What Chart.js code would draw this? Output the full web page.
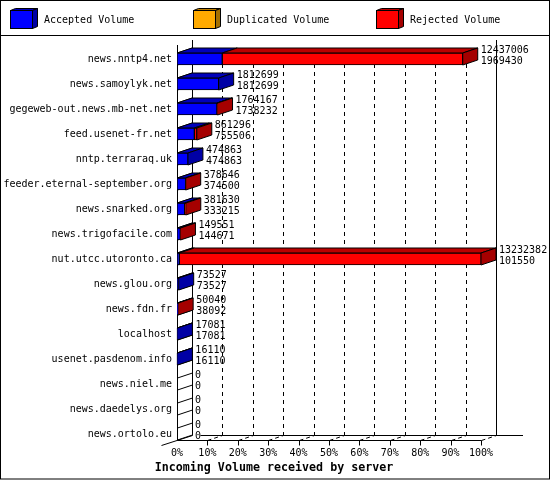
<!DOCTYPE html>
<html>
<head>
<meta charset="utf-8">
<title>Incoming Volume received by server</title>
<script src="https://cdn.jsdelivr.net/npm/chart.js@4"></script>
<style>
    html, body { margin: 0; padding: 0; background: #fff; }
    #wrap { width: 550px; height: 480px; }
</style>
</head>
<body>
<div id="wrap"><canvas id="chart"></canvas></div>
<script>
const servers = [
    'news.nntp4.net', 'news.samoylyk.net', 'gegeweb-out.news.mb-net.net', 'feed.usenet-fr.net',
    'nntp.terraraq.uk', 'feeder.eternal-september.org', 'news.snarked.org', 'news.trigofacile.com',
    'nut.utcc.utoronto.ca', 'news.glou.org', 'news.fdn.fr', 'localhost',
    'usenet.pasdenom.info', 'news.niel.me', 'news.daedelys.org', 'news.ortolo.eu'
];
const totalVolume = [12437006, 1812699, 1764167, 861296, 474863, 378646, 381630, 149551, 13232382, 73527, 50040, 17081, 16110, 0, 0, 0];
const acceptedVolume = [1969430, 1812699, 1738232, 755506, 474863, 374500, 333215, 144671, 101550, 73527, 38092, 17081, 16110, 0, 0, 0];
const duplicatedVolume = [0, 0, 0, 0, 0, 0, 0, 0, 0, 0, 0, 0, 0, 0, 0, 0];
const rejectedVolume = [10467576, 0, 25935, 105790, 0, 4146, 48415, 4880, 13130832, 0, 11948, 0, 0, 0, 0, 0];
const percentTicks = [0, 10, 20, 30, 40, 50, 60, 70, 80, 90, 100];
const scaleMax = 13232382;

const FONT = '"DejaVu Sans Mono", monospace';
const DEPTH_X = 15;
const DEPTH_Y = 5;

function line(ctx, x1, y1, x2, y2) {
    ctx.beginPath();
    ctx.moveTo(x1, y1);
    ctx.lineTo(x2, y2);
    ctx.stroke();
}

function poly(ctx, points, fill) {
    ctx.beginPath();
    points.forEach((p, i) => i ? ctx.lineTo(p[0], p[1]) : ctx.moveTo(p[0], p[1]));
    ctx.closePath();
    ctx.fillStyle = fill;
    ctx.fill();
    ctx.stroke();
}

// Back walls and dashed grid, sitting behind the bars
const gridPlugin = {
    id: 'grid3d',
    beforeDatasetsDraw(chart) {
        const ctx = chart.ctx;
        const xs = chart.scales.x;
        const floor = 440.5;
        ctx.save();
        ctx.strokeStyle = '#000';
        ctx.lineWidth = 1;

        percentTicks.forEach(p => {
            const x = Math.round(xs.getPixelForValue(p / 100 * scaleMax)) + 0.5;
            if (p > 0 && p < 100) {
                ctx.setLineDash([4, 4]);
                line(ctx, x + DEPTH_X, 48, x + DEPTH_X, floor - DEPTH_Y);
            }
            if (p > 0) {
                ctx.setLineDash([4, 3]);
                line(ctx, x, floor, x + DEPTH_X, floor - DEPTH_Y);
                ctx.setLineDash([]);
                line(ctx, x, floor, x, floor + 5);
            }
        });
        ctx.setLineDash([]);

        const left = Math.round(xs.left) + 0.5;
        const right = Math.round(xs.right) + 0.5;
        line(ctx, left, 45, left, floor);
        line(ctx, left + DEPTH_X, 40, left + DEPTH_X, floor - DEPTH_Y);
        line(ctx, right + DEPTH_X, 40, right + DEPTH_X, floor - DEPTH_Y);
        line(ctx, left, floor, right, floor);
        line(ctx, left + 23, floor - DEPTH_Y, 523, floor - DEPTH_Y);
        line(ctx, left - 16, floor + 5, left + DEPTH_X, floor - DEPTH_Y);

        // top and side faces of every bar
        chart.data.labels.forEach((label, i) => {
            const first = chart.getDatasetMeta(0).data[i];
            const top = first.y - first.height / 2;
            const bottom = first.y + first.height / 2;
            line(ctx, left, top, left + DEPTH_X, top - DEPTH_Y);
            line(ctx, left, bottom, left + DEPTH_X, bottom - DEPTH_Y);

            let last = null;
            chart.data.datasets.forEach((ds, d) => {
                if (!ds.data[i]) return;
                const bar = chart.getDatasetMeta(d).data[i];
                poly(ctx, [[bar.base, top], [bar.x, top], [bar.x + DEPTH_X, top - DEPTH_Y], [bar.base + DEPTH_X, top - DEPTH_Y]], ds.topColor);
                last = { bar, color: ds.sideColor };
            });
            if (last) {
                const x = last.bar.x;
                poly(ctx, [[x, top], [x + DEPTH_X, top - DEPTH_Y], [x + DEPTH_X, bottom - DEPTH_Y], [x, bottom]], last.color);
            }
        });
        ctx.restore();
    }
};

// Value pairs, legend, frame and caption
const overlayPlugin = {
    id: 'overlay',
    afterDraw(chart) {
        const ctx = chart.ctx;
        const xs = chart.scales.x;
        const ys = chart.scales.y;
        ctx.save();
        ctx.strokeStyle = '#000';
        ctx.lineWidth = 1;
        ctx.fillStyle = '#000';
        ctx.textBaseline = 'middle';
        ctx.textAlign = 'left';
        ctx.font = '10px ' + FONT;

        servers.forEach((name, i) => {
            const x = xs.getPixelForValue(totalVolume[i]) + DEPTH_X + 3;
            const y = ys.getPixelForValue(i);
            ctx.fillText(String(totalVolume[i]), x, y - 8.5);
            ctx.fillText(String(acceptedVolume[i]), x, y + 2.5);
        });

        chart.data.datasets.forEach((ds, d) => {
            const x = 10.5 + d * 183;
            poly(ctx, [[x, 10.5], [x + 5, 8.5], [x + 27, 8.5], [x + 22, 10.5]], ds.topColor);
            poly(ctx, [[x + 22, 10.5], [x + 27, 8.5], [x + 27, 26.5], [x + 22, 28.5]], ds.sideColor);
            ctx.fillStyle = ds.backgroundColor;
            ctx.fillRect(x, 10.5, 22, 18);
            ctx.strokeRect(x, 10.5, 22, 18);
            ctx.fillStyle = '#000';
            ctx.fillText(ds.label, x + 33.5, 20.5);
        });

        ctx.strokeRect(0.5, 0.5, 549, 478.5);
        line(ctx, 0, 35.5, 550, 35.5);

        ctx.textAlign = 'center';
        ctx.font = 'bold 11.67px ' + FONT;
        ctx.fillText('Incoming Volume received by server', 274, 467.5);
        ctx.restore();
    }
};

new Chart(document.getElementById('chart'), {
    type: 'bar',
    data: {
        labels: servers,
        datasets: [
            { label: 'Accepted Volume', data: acceptedVolume, backgroundColor: '#0000ff', topColor: '#0000bb', sideColor: '#0000a5' },
            { label: 'Duplicated Volume', data: duplicatedVolume, backgroundColor: '#ffaa00', topColor: '#bb7d00', sideColor: '#a57000' },
            { label: 'Rejected Volume', data: rejectedVolume, backgroundColor: '#ff0000', topColor: '#bb0000', sideColor: '#a50000' }
        ]
    },
    options: {
        indexAxis: 'y',
        responsive: true,
        maintainAspectRatio: false,
        animation: false,
        layout: { padding: { top: 46.5, right: 69, left: 0, bottom: 0 } },
        datasets: { bar: { barThickness: 12, borderWidth: 1, borderColor: '#000', borderSkipped: false } },
        plugins: { legend: { display: false }, title: { display: false }, tooltip: { enabled: false } },
        scales: {
            x: {
                stacked: true,
                min: 0,
                max: scaleMax,
                afterFit(scale) { scale.height = 33.5; },
                afterBuildTicks(scale) { scale.ticks = percentTicks.map(p => ({ value: p / 100 * scaleMax })); },
                grid: { display: false, drawTicks: false },
                border: { display: false },
                ticks: {
                    autoSkip: false,
                    maxRotation: 0,
                    padding: 1,
                    color: '#000',
                    font: { family: FONT, size: 10 },
                    callback: (value) => Math.round(value / scaleMax * 100) + '%'
                }
            },
            y: {
                stacked: true,
                afterFit(scale) { scale.width = 177; },
                grid: { display: false, drawTicks: false },
                border: { display: false },
                ticks: {
                    autoSkip: false,
                    padding: 5,
                    color: '#000',
                    font: { family: FONT, size: 10 }
                }
            }
        }
    },
    plugins: [gridPlugin, overlayPlugin]
});
</script>
</body>
</html>
